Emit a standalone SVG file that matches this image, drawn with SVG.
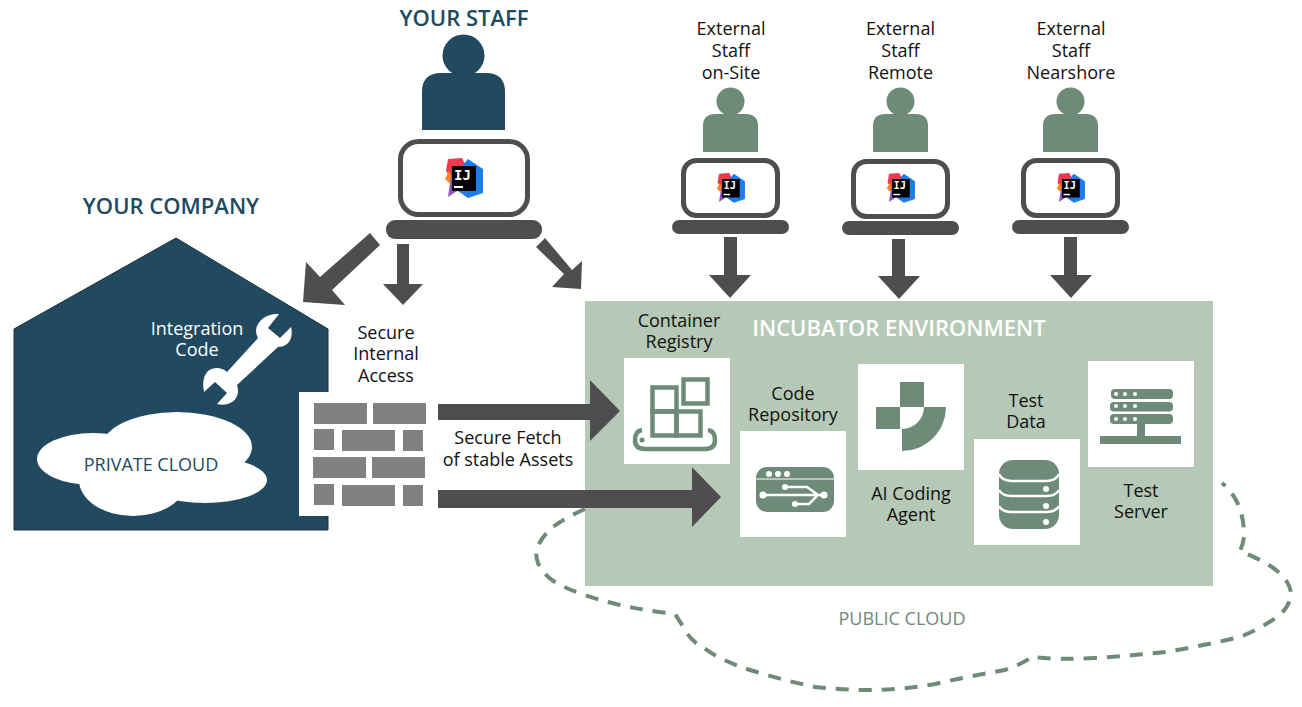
<svg xmlns="http://www.w3.org/2000/svg" width="1302" height="707" viewBox="0 0 1302 707">
<style>
text{font-family:"Open Sans","Noto Sans","Liberation Sans",sans-serif;font-size:18px;fill:#111;text-anchor:middle}
.navy{fill:#21495f}.sage{fill:#6e8a78}.dark{fill:#4f4d4f}.white{fill:#fff}.brick{fill:#818082}
.head{font-size:22px;font-weight:600;fill:#21495f}
.lap{fill:#fff;stroke:#4f4d4f;stroke-width:5}
.line{fill:none;stroke:#6e8a78;stroke-width:4.5}
.usb{fill:none;stroke:#fff;stroke-width:2.5}
.sep{fill:none;stroke:#fff;stroke-width:2.5}
</style>
<defs>
<g id="ij">
<polygon points="-4,-7 10,-8 14,0 0,14 -6,5" fill="#f0384f"/>
<polygon points="-3,5 -7,13 -3,17 1,15" fill="#f88a13"/>
<polygon points="-1,10 5,25 -4,31" fill="#8f56b5"/>
<polygon points="16,-7 31,3 31,27 16,32 6,25 10,0" fill="#1b7cf0"/>
<rect width="24" height="25" fill="#000"/>
<text x="10.500" y="14" style="font-family:'DejaVu Sans Mono','Liberation Mono',monospace;font-size:14px;font-weight:700;fill:#fff">IJ</text>
<rect x="2" y="20" width="9" height="2" fill="#fff"/>
</g>
<g id="person">
<circle cx="0" cy="-12.500" r="14"/>
<path d="M-27.500 38V12Q-27.500 0-15 0H15Q27.500 0 27.500 12V38Z"/>
</g>
</defs>

<g id="your-company">
<polygon points="176,238 328,329 328,530 14,530 14,329" fill="#21495f" stroke="#1b2f3b" stroke-width="1"/>
<text x="171" y="214" class="head">YOUR COMPANY</text>
<text x="197" y="335" class="white">Integration</text>
<text x="197" y="356" class="white">Code</text>
<path class="white" d="M279 314C268 313 257 320 256 330C256 334 257 336 258 338L227 372C220 366 213 368 208 371C204 375 202 382 204 392L215 382L227 393L217 404C226 406 233 403 236 398C239 393 238 389 237 385L278 347C284 347 289 344 291 338C292 334 292 330 291 327L280 338L268 328Z"/>
</g>

<g id="private-cloud">
<ellipse cx="93" cy="459" rx="56" ry="26" class="white"/>
<ellipse cx="177" cy="447" rx="75" ry="35" class="white"/>
<ellipse cx="133" cy="480" rx="54" ry="36" class="white"/>
<ellipse cx="205" cy="480" rx="62" ry="23" class="white"/>
<text x="151" y="471" class="navy">PRIVATE CLOUD</text>
</g>

<g id="incubator">
<rect x="585" y="301" width="628" height="285" fill="#b6c9b6"/>
<text x="899" y="336" class="white" style="font-size:22px;font-weight:600">INCUBATOR ENVIRONMENT</text>
</g>

<g id="public-cloud">
<path fill="none" stroke="#6e8a78" stroke-width="4" stroke-dasharray="13 10" d="M585 509Q565 518 555 525.500Q545 533 539.500 543Q534 553 538 563Q542.500 573 552 580Q562 587 583 594.500Q605 602 627 606.500Q650 611 675 614Q681 623 687 633Q692 642 707 650Q720 660 750 670Q782 680 815 687Q842 690 870 690Q902 690 935 684Q970 676 1005 670Q1020 665 1032 657Q1060 660 1095 658Q1130 656 1165 652Q1202 646 1240 637Q1262 628 1280 615Q1291 604 1291 593Q1290 584 1282 575Q1272 566 1260 560Q1250 555 1240 551Q1245 540 1244 530Q1243 515 1237 502Q1231 490 1222 483"/>
<text x="902" y="625" class="sage">PUBLIC CLOUD</text>
</g>

<g id="your-staff">
<text x="464" y="26" class="head">YOUR STAFF</text>
<circle cx="463.500" cy="55.500" r="21" class="navy"/>
<path class="navy" d="M422 130V92Q422 73 441 73H486Q505 73 505 92V130Z"/>
<rect x="400.500" y="141.500" width="127" height="73" rx="18" class="lap"/>
<rect x="386" y="220" width="156" height="19" rx="9" class="dark"/>
<use href="#ij" x="452" y="166"/>
</g>

<g id="external-onsite">
<text x="731" y="35">External</text><text x="731" y="57">Staff</text><text x="731" y="79">on-Site</text>
<use href="#person" x="730.500" y="114" class="sage"/>
<rect x="683.500" y="160.500" width="94" height="55" rx="13" class="lap"/>
<rect x="672" y="220" width="117" height="14" rx="7" class="dark"/>
<use href="#ij" transform="translate(722 179) scale(.74)"/>
</g>
<g id="external-remote">
<text x="900.500" y="35">External</text><text x="900.500" y="57">Staff</text><text x="900.500" y="79">Remote</text>
<use href="#person" x="900.500" y="114" class="sage"/>
<rect x="853.500" y="161.500" width="94" height="55" rx="13" class="lap"/>
<rect x="842" y="221" width="117" height="14" rx="7" class="dark"/>
<use href="#ij" transform="translate(892 179) scale(.74)"/>
</g>
<g id="external-nearshore">
<text x="1071" y="35">External</text><text x="1071" y="57">Staff</text><text x="1071" y="79">Nearshore</text>
<use href="#person" x="1070.500" y="114" class="sage"/>
<rect x="1023.500" y="160.500" width="94" height="55" rx="13" class="lap"/>
<rect x="1012" y="220" width="117" height="14" rx="7" class="dark"/>
<use href="#ij" transform="translate(1062 179) scale(.74)"/>
</g>

<g id="firewall">
<rect x="299" y="392" width="139" height="124" class="white"/>
<rect x="314" y="403" width="53" height="21" class="brick"/><rect x="373" y="403" width="53" height="21" class="brick"/>
<rect x="314" y="429" width="20" height="21" class="brick"/><rect x="342" y="430" width="53" height="21" class="brick"/><rect x="403" y="430" width="20" height="21" class="brick"/>
<rect x="313" y="457" width="53" height="21" class="brick"/><rect x="372" y="457" width="53" height="21" class="brick"/>
<rect x="314" y="484" width="20" height="21" class="brick"/><rect x="342" y="485" width="53" height="21" class="brick"/><rect x="403" y="485" width="20" height="21" class="brick"/>
<text x="386" y="339">Secure</text><text x="386" y="360">Internal</text><text x="386" y="382">Access</text>
</g>

<g id="connectors" class="dark">
<polygon points="370,233 380,245 332,290 345,305 303,302 306,262 320,277"/>
<polygon points="397,244 409,244 409,284 423,284 403,305 383,284 397,284"/>
<polygon points="545,238 536,247 564,274 552,287 581,289 582,261 572,270"/>
<polygon points="724,237 737,237 737,275 751,275 730,298 709,275 724,275"/>
<polygon points="892,239 905,239 905,276 920,276 899,299 878,276 892,276"/>
<polygon points="1064,237 1077,237 1077,275 1092,275 1071,298 1050,275 1064,275"/>
<polygon points="438,404 590,404 590,380 620,411 590,441 590,420 438,420"/>
<polygon points="438,490 692,490 692,467 721,497 692,527 692,508 438,508"/>
</g>
<g id="fetch-label">
<text x="508" y="444">Secure Fetch</text><text x="508" y="466">of stable Assets</text>
</g>

<g id="container-registry">
<text x="679" y="327">Container</text><text x="679" y="348">Registry</text>
<rect x="624" y="358" width="106" height="106" class="white"/>
<rect x="683.500" y="379.500" width="24" height="24" class="line"/>
<rect x="652.500" y="387.500" width="24" height="24" class="line"/>
<rect x="652.500" y="411.500" width="24" height="24" class="line"/>
<rect x="676.500" y="411.500" width="24" height="24" class="line"/>
<path class="line" d="M642 430Q635 431 635 440Q635 449 645 449H705Q715 449 715 440Q715 431 708 430"/>
<circle cx="642" cy="440" r="2.500" class="sage"/>
</g>

<g id="code-repository">
<text x="793" y="400">Code</text><text x="793" y="421">Repository</text>
<rect x="740" y="431" width="106" height="106" class="white"/>
<rect x="756" y="467" width="78" height="45" rx="11" class="sage"/>
<path d="M756 479H834" stroke="#fff" stroke-width="1"/>
<circle cx="769" cy="474" r="3" class="white"/><circle cx="778" cy="474" r="3" class="white"/><circle cx="787" cy="474" r="3" class="white"/>
<path class="usb" d="M763 495H824M785 487H807L818 495L809 504H795"/>
<circle cx="763" cy="495" r="3.500" class="white"/><circle cx="824" cy="495" r="3.500" class="white"/><circle cx="785" cy="487" r="3" class="white"/><circle cx="795" cy="504" r="3" class="white"/>
</g>

<g id="ai-coding-agent">
<rect x="858" y="364" width="106" height="106" class="white"/>
<rect x="900" y="382" width="24" height="25" class="sage"/>
<rect x="876" y="407" width="24" height="22" class="sage"/>
<path class="sage" d="M902 429A22 22 0 0 0 924 407H946A44 44 0 0 1 902 451Z"/>
<text x="911" y="500">AI Coding</text><text x="911" y="521">Agent</text>
</g>

<g id="test-data">
<text x="1026" y="407">Test</text><text x="1026" y="428">Data</text>
<rect x="974" y="439" width="106" height="106" class="white"/>
<rect x="999" y="460" width="60" height="69" rx="14" class="sage"/>
<path class="sep" d="M999 474Q1002 481 1012 481H1046Q1056 481 1059 474M999 490Q1002 496 1012 496H1046Q1056 496 1059 490M999 506Q1002 512 1012 512H1046Q1056 512 1059 506"/>
<circle cx="1046" cy="489" r="3" class="white"/><circle cx="1046" cy="506" r="3" class="white"/><circle cx="1046" cy="522" r="3" class="white"/>
</g>

<g id="test-server">
<rect x="1088" y="361" width="106" height="106" class="white"/>
<rect x="1111" y="389" width="62" height="10" rx="4" class="sage"/>
<rect x="1110" y="402" width="63" height="9.500" rx="4" class="sage"/>
<rect x="1110" y="414" width="63" height="10" rx="4" class="sage"/>
<circle cx="1116" cy="394" r="2" class="white"/><circle cx="1125" cy="394" r="2" class="white"/><circle cx="1135" cy="394" r="2" class="white"/>
<circle cx="1116" cy="406" r="2" class="white"/><circle cx="1125" cy="406" r="2" class="white"/><circle cx="1135" cy="406" r="2" class="white"/>
<circle cx="1116" cy="419" r="2" class="white"/><circle cx="1125" cy="419" r="2" class="white"/><circle cx="1135" cy="419" r="2" class="white"/>
<rect x="1137" y="424" width="8" height="12" class="sage"/>
<rect x="1100" y="436" width="81" height="8" class="sage"/>
<text x="1141" y="497">Test</text><text x="1141" y="518">Server</text>
</g>
</svg>
